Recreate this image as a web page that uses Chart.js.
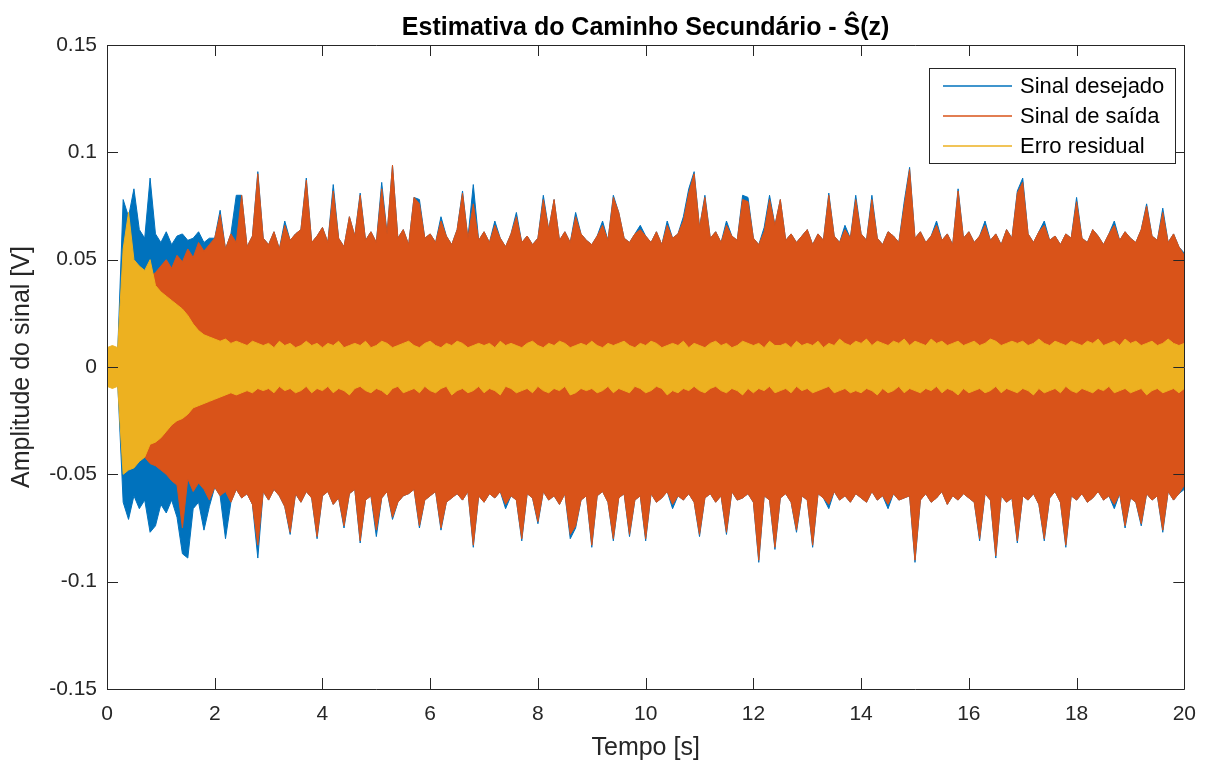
<!DOCTYPE html>
<html>
<head>
<meta charset="utf-8">
<script src="https://cdn.jsdelivr.net/npm/chart.js@4.4.0/dist/chart.umd.min.js"></script>
<style>
    html, body { margin: 0; padding: 0; background: #fff; }
    #wrap { width: 1209px; height: 763px; }
</style>
</head>
<body>
<div id="wrap"><canvas id="signalChart" width="1209" height="763"></canvas></div>
<script>
// envelope of each signal, every 0.1 s, in mV
const sampleStep = 0.1;
const seriesNames = ['Sinal desejado', 'Sinal de saída', 'Erro residual'];

const desejadoMax = [
    8, 9, 8, 78, 70, 83, 64, 60, 88, 62,
    58, 63, 57, 61, 62, 59, 60, 63, 58, 60,
    60, 73, 55, 62, 80, 80, 56, 61, 91, 60,
    57, 63, 55, 68, 59, 62, 64, 88, 58, 61,
    65, 58, 85, 60, 56, 70, 61, 81, 59, 63,
    58, 86, 62, 94, 60, 64, 57, 79, 78, 60,
    62, 58, 70, 61, 57, 64, 82, 60, 85, 59,
    63, 58, 68, 60, 56, 62, 72, 58, 61, 57,
    60, 80, 64, 78, 59, 63, 58, 72, 62, 59,
    57, 61, 68, 59, 80, 72, 60, 58, 62, 66,
    61, 58, 63, 57, 68, 60, 62, 70, 83, 91,
    65, 80, 60, 63, 58, 68, 61, 59, 80, 79,
    60, 57, 65, 80, 66, 78, 59, 62, 58, 61,
    64, 57, 62, 59, 81, 61, 58, 66, 60, 80,
    62, 59, 80, 60, 57, 63, 61, 58, 77, 93,
    60, 63, 58, 61, 68, 59, 62, 57, 83, 60,
    63, 58, 61, 68, 59, 62, 57, 64, 60, 82,
    88, 62, 58, 63, 68, 59, 61, 57, 62, 60,
    79, 60, 58, 64, 61, 57, 62, 68, 59, 63,
    60, 58, 64, 76, 61, 59, 74, 58, 62, 56,
    53
];
const desejadoMin = [
    -8, -9, -8, -63, -71, -60, -66, -62, -77, -74,
    -64, -68, -62, -70, -87, -89, -66, -63, -76, -65,
    -56, -60, -80, -63, -57, -61, -59, -64, -89, -58,
    -62, -57, -60, -65, -78, -59, -63, -58, -61, -80,
    -60, -58, -64, -61, -75, -59, -57, -82, -62, -60,
    -79, -61, -58, -71, -63, -60, -59, -57, -75, -62,
    -60, -58, -76, -63, -61, -59, -62, -58, -84, -60,
    -63, -59, -61, -58, -66, -60, -62, -81, -59, -61,
    -73, -58, -62, -60, -64, -59, -80, -75, -62, -60,
    -84, -60, -58, -63, -81, -61, -59, -79, -62, -60,
    -81, -59, -63, -61, -58, -66, -60, -62, -59, -63,
    -79, -61, -59, -63, -60, -78, -58, -62, -61, -59,
    -63, -91, -60, -62, -85, -61, -59, -63, -77, -60,
    -62, -84, -59, -61, -66, -58, -62, -60, -63, -59,
    -61, -63, -58, -62, -60, -66, -59, -62, -61, -60,
    -91, -62, -59, -63, -61, -58, -64, -60, -62, -59,
    -61, -63, -81, -59, -62, -89, -60, -63, -61, -82,
    -60, -62, -59, -64, -81, -61, -58, -63, -84, -60,
    -62, -59, -63, -61, -58, -62, -60, -66, -59, -75,
    -61, -63, -74, -59, -62, -60, -77, -58, -62, -59,
    -57
];

const saidaMax = [
    7, 8, 7, 20, 28, 32, 36, 40, 42, 44,
    47, 50, 46, 52, 49, 55, 51, 58, 54, 57,
    60, 71, 55, 62, 58, 80, 56, 61, 90, 60,
    57, 63, 55, 66, 59, 62, 64, 87, 58, 61,
    65, 58, 82, 60, 56, 70, 61, 80, 59, 63,
    58, 83, 62, 94, 60, 64, 57, 79, 76, 60,
    62, 58, 68, 61, 57, 64, 81, 60, 76, 59,
    63, 58, 66, 60, 56, 62, 70, 58, 61, 57,
    60, 78, 64, 78, 59, 63, 58, 70, 62, 59,
    57, 61, 66, 59, 79, 72, 60, 58, 62, 64,
    61, 58, 63, 57, 66, 60, 62, 68, 81, 90,
    65, 79, 60, 63, 58, 66, 61, 59, 78, 77,
    60, 57, 63, 78, 66, 78, 59, 62, 58, 61,
    64, 57, 62, 59, 80, 61, 58, 64, 60, 78,
    62, 59, 78, 60, 57, 63, 61, 58, 75, 92,
    60, 63, 58, 61, 66, 59, 62, 57, 82, 60,
    63, 58, 61, 66, 59, 62, 57, 64, 60, 81,
    86, 62, 58, 63, 66, 59, 61, 57, 62, 60,
    77, 60, 58, 64, 61, 57, 62, 66, 59, 63,
    60, 58, 64, 75, 61, 59, 72, 58, 62, 56,
    52
];
const saidaMin = [
    -7, -8, -7, -20, -28, -33, -38, -42, -45, -46,
    -48, -50, -53, -55, -75, -52, -58, -54, -57, -62,
    -56, -60, -58, -63, -57, -61, -59, -64, -83, -58,
    -62, -57, -60, -65, -77, -59, -63, -58, -61, -79,
    -60, -58, -64, -61, -74, -59, -57, -81, -62, -60,
    -76, -61, -58, -70, -63, -60, -59, -57, -74, -62,
    -60, -58, -75, -63, -61, -59, -62, -58, -83, -60,
    -63, -59, -61, -58, -64, -60, -62, -80, -59, -61,
    -72, -58, -62, -60, -64, -59, -78, -74, -62, -60,
    -83, -60, -58, -63, -80, -61, -59, -78, -62, -60,
    -80, -59, -63, -61, -58, -64, -60, -62, -59, -63,
    -78, -61, -59, -63, -60, -77, -58, -62, -61, -59,
    -63, -90, -60, -62, -84, -61, -59, -63, -76, -60,
    -62, -83, -59, -61, -64, -58, -62, -60, -63, -59,
    -61, -63, -58, -62, -60, -64, -59, -62, -61, -60,
    -90, -62, -59, -63, -61, -58, -64, -60, -62, -59,
    -61, -63, -80, -59, -62, -88, -60, -63, -61, -81,
    -60, -62, -59, -64, -80, -61, -58, -63, -83, -60,
    -62, -59, -63, -61, -58, -62, -60, -64, -59, -74,
    -61, -63, -73, -59, -62, -60, -76, -58, -62, -59,
    -55
];

const erroMax = [
    9, 10, 9, 55, 72, 50, 47, 45, 50, 38,
    35, 33, 31, 29, 27, 24, 20, 17, 15, 14,
    13, 12, 13, 11, 12, 11, 10, 12, 11, 10,
    11, 9, 12, 10, 11, 9, 10, 12, 10, 11,
    9, 11, 10, 12, 9, 10, 11, 10, 12, 9,
    10, 12, 11, 9, 10, 11, 12, 10, 9, 11,
    12, 10, 9, 11, 10, 12, 11, 9, 10, 11,
    10, 11, 9, 12, 10, 11, 10, 9, 11, 12,
    10, 9, 11, 10, 12, 11, 9, 10, 11, 10,
    12, 10, 9, 11, 10, 11, 12, 10, 9, 11,
    10, 12, 11, 9, 10, 11, 10, 12, 9, 11,
    10, 9, 11, 12, 10, 11, 9, 10, 12, 11,
    10, 11, 9, 12, 10, 10, 11, 9, 12, 10,
    11, 10, 12, 9, 11, 10, 13, 11, 10, 12,
    11, 13, 10, 12, 11, 10, 12, 11, 13, 10,
    12, 11, 10, 13, 11, 12, 10, 11, 12, 10,
    11, 12, 10, 11, 13, 12, 10, 11, 12, 11,
    12, 10, 11, 13, 11, 10, 12, 11, 10, 12,
    11, 10, 12, 11, 13, 10, 11, 12, 10, 13,
    11, 12, 10, 11, 12, 10, 11, 13, 11, 10,
    11
];
const erroMin = [
    -9, -10, -9, -50, -48, -47, -44, -42, -36, -35,
    -33, -30, -27, -25, -24, -22, -19, -18, -17, -16,
    -15, -14, -13, -12, -13, -12, -11, -12, -10, -11,
    -10, -12, -9, -11, -10, -12, -11, -9, -12, -10,
    -11, -9, -12, -10, -11, -13, -10, -9, -11, -12,
    -10, -11, -13, -10, -9, -12, -11, -10, -12, -9,
    -11, -12, -10, -9, -13, -11, -10, -12, -11, -9,
    -12, -10, -11, -13, -9, -10, -12, -11, -10, -12,
    -9, -11, -12, -10, -11, -9, -13, -12, -10, -11,
    -10, -12, -11, -9, -12, -10, -11, -12, -9, -10,
    -12, -11, -9, -10, -13, -11, -12, -10, -11, -9,
    -11, -12, -10, -9, -11, -12, -10, -11, -13, -10,
    -12, -10, -11, -9, -12, -11, -10, -12, -9, -11,
    -10, -12, -11, -10, -9, -12, -11, -10, -12, -11,
    -12, -10, -11, -13, -10, -12, -11, -9, -12, -10,
    -11, -12, -10, -11, -9, -12, -10, -11, -13, -10,
    -12, -11, -10, -12, -11, -9, -12, -10, -11, -12,
    -10, -11, -13, -10, -12, -11, -10, -12, -9, -11,
    -12, -10, -11, -12, -10, -11, -9, -12, -11, -10,
    -12, -11, -10, -13, -11, -10, -12, -11, -10, -12,
    -10
];

const xTicks = [0, 2, 4, 6, 8, 10, 12, 14, 16, 18, 20];
const yTicks = [-0.15, -0.1, -0.05, 0, 0.05, 0.1, 0.15];

const colors = ['#0072BD', '#D95319', '#EDB120'];
const textColor = '#262626';
const fontFamily = '"Liberation Sans", Arial, Helvetica, sans-serif';

function toPoints(mv) {
    return mv.map((v, i) => ({ x: i * sampleStep, y: v / 1000 }));
}

// upper envelope filled down to the lower one, like a dense MATLAB plot
function band(name, color, hi, lo) {
    return [
        { label: name, data: toPoints(hi), borderColor: color, backgroundColor: color,
          borderWidth: 1, pointRadius: 0, fill: '+1' },
        { label: name + ' min', data: toPoints(lo), borderColor: color,
          borderWidth: 1, pointRadius: 0, fill: false }
    ];
}

// first dataset is drawn on top, so the error goes first
const datasets = [
    ...band(seriesNames[2], colors[2], erroMax, erroMin),
    ...band(seriesNames[1], colors[1], saidaMax, saidaMin),
    ...band(seriesNames[0], colors[0], desejadoMax, desejadoMin)
];

const matlabLook = {
    id: 'matlabLook',
    afterDraw(chart) {
        const ctx = chart.ctx;
        const a = chart.chartArea;
        const xs = chart.scales.x;
        const ys = chart.scales.y;
        const tl = 11;
        ctx.save();
        ctx.strokeStyle = textColor;
        ctx.lineWidth = 1;

        // box and inward ticks on all four sides
        ctx.beginPath();
        ctx.rect(Math.round(a.left) + 0.5, Math.round(a.top) + 0.5,
            Math.round(a.right - a.left), Math.round(a.bottom - a.top));
        xTicks.forEach(v => {
            const px = Math.round(xs.getPixelForValue(v)) + 0.5;
            ctx.moveTo(px, a.bottom); ctx.lineTo(px, a.bottom - tl);
            ctx.moveTo(px, a.top); ctx.lineTo(px, a.top + tl);
        });
        yTicks.forEach(v => {
            const py = Math.round(ys.getPixelForValue(v)) + 0.5;
            ctx.moveTo(a.left, py); ctx.lineTo(a.left + tl, py);
            ctx.moveTo(a.right, py); ctx.lineTo(a.right - tl, py);
        });
        ctx.stroke();

        // title
        ctx.fillStyle = '#000';
        ctx.font = 'bold 25px ' + fontFamily;
        ctx.textAlign = 'center';
        ctx.textBaseline = 'middle';
        ctx.fillText('Estimativa do Caminho Secundário - Ŝ(z)', (a.left + a.right) / 2, 28);

        // legend box
        const lx = 929, ly = 68, lw = 246, lh = 95;
        ctx.fillStyle = '#fff';
        ctx.fillRect(lx, ly, lw, lh);
        ctx.strokeStyle = textColor;
        ctx.strokeRect(lx + 0.5, ly + 0.5, lw, lh);
        ctx.font = '22px ' + fontFamily;
        ctx.textAlign = 'left';
        seriesNames.forEach((name, i) => {
            const yy = ly + 18 + i * 30;
            ctx.strokeStyle = colors[i];
            ctx.lineWidth = 1.5;
            ctx.beginPath();
            ctx.moveTo(lx + 14, yy);
            ctx.lineTo(lx + 83, yy);
            ctx.stroke();
            ctx.fillStyle = '#000';
            ctx.fillText(name, lx + 91, yy + 1);
        });
        ctx.restore();
    }
};

new Chart(document.getElementById('signalChart'), {
    type: 'line',
    data: { datasets: datasets },
    options: {
        responsive: false,
        animation: false,
        devicePixelRatio: 1,
        layout: { padding: { top: 45, right: 22, left: 0, bottom: 0 } },
        plugins: {
            legend: { display: false },
            title: { display: false },
            tooltip: { enabled: false },
            filler: { propagate: false }
        },
        scales: {
            x: {
                type: 'linear',
                min: 0,
                max: 20,
                afterFit: s => { s.height = 74; },
                afterBuildTicks: s => { s.ticks = xTicks.map(v => ({ value: v })); },
                grid: { display: false, drawTicks: false },
                border: { display: false },
                ticks: { color: textColor, padding: 13, maxRotation: 0,
                         font: { family: fontFamily, size: 21 } },
                title: { display: true, text: 'Tempo [s]', color: textColor,
                         padding: { top: 0, bottom: 0 },
                         font: { family: fontFamily, size: 25 } }
            },
            y: {
                type: 'linear',
                min: -0.15,
                max: 0.15,
                afterFit: s => { s.width = 107; },
                afterBuildTicks: s => { s.ticks = yTicks.map(v => ({ value: v })); },
                grid: { display: false, drawTicks: false },
                border: { display: false },
                ticks: { color: textColor, padding: 10,
                         font: { family: fontFamily, size: 21 },
                         callback: v => String(Number(v.toFixed(2))) },
                title: { display: true, text: 'Amplitude do sinal [V]', color: textColor,
                         padding: { top: 7, bottom: 0 },
                         font: { family: fontFamily, size: 25 } }
            }
        }
    },
    plugins: [matlabLook]
});
</script>
</body>
</html>
